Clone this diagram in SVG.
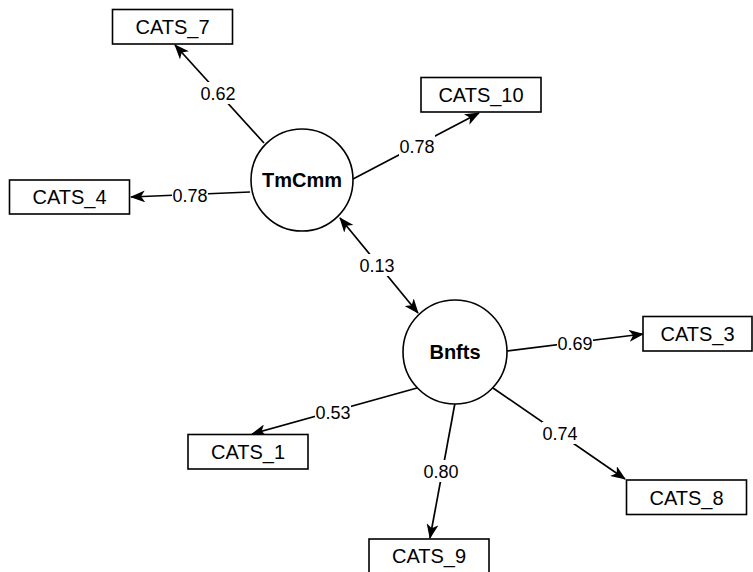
<svg xmlns="http://www.w3.org/2000/svg" width="753" height="572" viewBox="0 0 753 572">
<style>
.box{fill:#fff;stroke:#000;stroke-width:1.6}
.lat{fill:#fff;stroke:#000;stroke-width:1.6}
.bt{font-family:"Liberation Sans",Arial,sans-serif;font-size:20px;text-anchor:middle;fill:#000}
.lt{font-family:"Liberation Sans",Arial,sans-serif;font-size:20px;font-weight:bold;text-anchor:middle;fill:#000}
.et{font-family:"Liberation Sans",Arial,sans-serif;font-size:18px;text-anchor:middle;fill:#000}
.bg{fill:#fff}
.edge{stroke:#000;stroke-width:1.7;fill:none}
</style>
<defs>
<marker id="ah" markerUnits="userSpaceOnUse" markerWidth="15" markerHeight="12" refX="14" refY="6" orient="auto-start-reverse" viewBox="0 0 15 12">
<path d="M0,0 L15,6 L0,12 L4,6 Z" fill="#000"/>
</marker>
</defs>
<g id="connectors">
<line class="edge" x1="264" y1="143" x2="175" y2="45" marker-end="url(#ah)"/>
<line class="edge" x1="250" y1="192" x2="131" y2="197" marker-end="url(#ah)"/>
<line class="edge" x1="353" y1="179" x2="479" y2="113" marker-end="url(#ah)"/>
<line class="edge" x1="340" y1="218" x2="418" y2="313" marker-start="url(#ah)" marker-end="url(#ah)"/>
<line class="edge" x1="507" y1="351" x2="643" y2="334" marker-end="url(#ah)"/>
<line class="edge" x1="417" y1="388" x2="252" y2="434" marker-end="url(#ah)"/>
<line class="edge" x1="455" y1="403" x2="430" y2="538" marker-end="url(#ah)"/>
<line class="edge" x1="493" y1="388" x2="625" y2="479" marker-end="url(#ah)"/>
<g id="edge-labels">
<rect class="bg" x="200" y="82" width="36" height="22"/><text class="et" x="218" y="99.5">0.62</text>
<rect class="bg" x="172" y="184" width="36" height="22"/><text class="et" x="190" y="201.5">0.78</text>
<rect class="bg" x="399" y="135" width="36" height="22"/><text class="et" x="417" y="152.5">0.78</text>
<rect class="bg" x="359" y="254" width="36" height="22"/><text class="et" x="377" y="271.5">0.13</text>
<rect class="bg" x="557" y="332" width="36" height="22"/><text class="et" x="575" y="349.5">0.69</text>
<rect class="bg" x="315" y="401" width="36" height="22"/><text class="et" x="333" y="418.5">0.53</text>
<rect class="bg" x="423" y="460" width="36" height="22"/><text class="et" x="441" y="477.5">0.80</text>
<rect class="bg" x="542" y="422" width="36" height="22"/><text class="et" x="560" y="439.5">0.74</text>
</g>
</g>
<g id="TmCmm"><circle class="lat" cx="302" cy="180" r="51"/><text class="lt" x="302" y="187">TmCmm</text></g>
<g id="Bnfts"><circle class="lat" cx="455" cy="352" r="52"/><text class="lt" x="455" y="359">Bnfts</text></g>
<g id="CATS_7"><rect class="box" x="112.5" y="9.5" width="120" height="34.5"/><text class="bt" x="172.5" y="34">CATS_7</text></g>
<g id="CATS_4"><rect class="box" x="9.5" y="180" width="120" height="34"/><text class="bt" x="69.5" y="204">CATS_4</text></g>
<g id="CATS_10"><rect class="box" x="421" y="77.5" width="120" height="34.5"/><text class="bt" x="481" y="102">CATS_10</text></g>
<g id="CATS_3"><rect class="box" x="643" y="316.5" width="109" height="34.5"/><text class="bt" x="697.5" y="341">CATS_3</text></g>
<g id="CATS_1"><rect class="box" x="188" y="434.5" width="120" height="34.5"/><text class="bt" x="248" y="459">CATS_1</text></g>
<g id="CATS_8"><rect class="box" x="626.5" y="480" width="120" height="34.5"/><text class="bt" x="686.5" y="504.5">CATS_8</text></g>
<g id="CATS_9"><rect class="box" x="369" y="539" width="120" height="35"/><text class="bt" x="429" y="563">CATS_9</text></g>
</svg>
